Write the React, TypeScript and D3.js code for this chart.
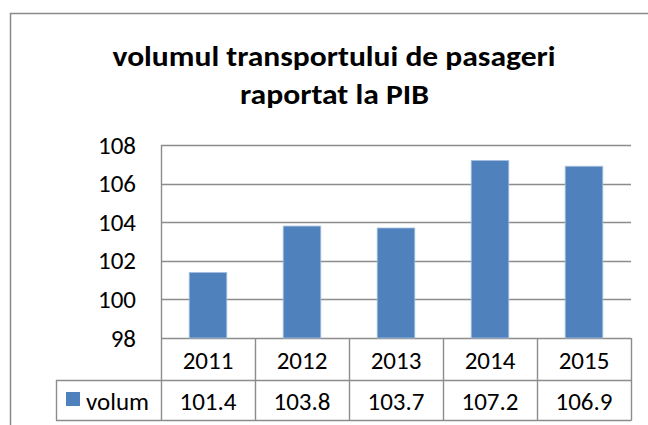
import { useEffect, useRef } from "react";
import * as d3 from "d3";

const years = ["2011", "2012", "2013", "2014", "2015"];
const volum = [101.4, 103.8, 103.7, 107.2, 106.9];
const yTicks = [98, 100, 102, 104, 106, 108];
const seriesName = "volum";
const titleLines = ["volumul transportului de pasageri", "raportat la PIB"];

const FONT = "Carlito, Calibri, Lato, 'Open Sans', sans-serif";
const GRID = "#8c8c8c";
const BAR = "#4f81bd";

export default function App() {
  const svgRef = useRef<SVGSVGElement | null>(null);

  useEffect(() => {
    if (!svgRef.current) return;
    const width = 648;
    const height = 425;
    const plot = { left: 161, right: 631, top: 145, bottom: 338 };
    const row1 = 380;
    const row2 = 420;
    const legendLeft = 56;

    const svg = d3.select(svgRef.current);
    svg.selectAll("*").remove();
    svg.attr("width", width).attr("height", height);

    svg.append("rect").attr("width", width).attr("height", height).attr("fill", "#fff");

    // outer chart frame (cropped on right and bottom)
    svg.append("path")
      .attr("d", `M10.5,${height} V13.5 H${width}`)
      .attr("fill", "none")
      .attr("stroke", "#8a8a8a")
      .attr("stroke-width", 1.5);

    // title
    const title = svg.append("g")
      .attr("font-family", FONT)
      .attr("font-weight", "bold")
      .attr("font-size", 29)
      .attr("fill", "#000")
      .attr("text-anchor", "middle");
    title.append("text").attr("x", 334).attr("y", 66)
      .attr("textLength", 443).attr("lengthAdjust", "spacingAndGlyphs")
      .text(titleLines[0]);
    title.append("text").attr("x", 334.5).attr("y", 104)
      .attr("textLength", 189).attr("lengthAdjust", "spacingAndGlyphs")
      .text(titleLines[1]);

    const y = d3.scaleLinear().domain([98, 108]).range([plot.bottom, plot.top]);
    const x = d3.scaleBand().domain(years).range([plot.left, plot.right]);

    // gridlines
    svg.append("g")
      .selectAll("line")
      .data(yTicks)
      .enter()
      .append("line")
      .attr("x1", plot.left)
      .attr("x2", plot.right)
      .attr("y1", d => Math.round(y(d)) + 0.5)
      .attr("y2", d => Math.round(y(d)) + 0.5)
      .attr("stroke", GRID)
      .attr("stroke-width", 1.4);

    // y tick labels
    svg.append("g")
      .attr("font-family", FONT)
      .attr("font-size", 25)
      .attr("text-anchor", "end")
      .selectAll("text")
      .data(yTicks)
      .enter()
      .append("text")
      .attr("x", 136)
      .attr("y", d => y(d))
      .attr("dominant-baseline", "central")
      .text(d => d);

    // bars
    const bw = x.bandwidth() * 0.4;
    svg.append("g")
      .selectAll("rect")
      .data(volum)
      .enter()
      .append("rect")
      .attr("x", (d, i) => (x(years[i]) as number) + (x.bandwidth() - bw) / 2)
      .attr("y", d => y(d))
      .attr("width", bw)
      .attr("height", d => y(98) - y(d))
      .attr("fill", BAR)
      .attr("stroke", "#a9c1df")
      .attr("stroke-width", 0.8);

    // data table lines
    const lines = svg.append("g").attr("stroke", GRID).attr("stroke-width", 1.4).attr("fill", "none");
    lines.append("line").attr("x1", plot.left + 0.5).attr("x2", plot.left + 0.5)
      .attr("y1", plot.top).attr("y2", row2 + 0.5);
    years.forEach(yr => {
      const xr = Math.round((x(yr) as number) + x.bandwidth()) + 0.5;
      lines.append("line").attr("x1", xr).attr("x2", xr).attr("y1", plot.bottom).attr("y2", row2 + 0.5);
    });
    lines.append("line").attr("x1", legendLeft).attr("x2", plot.right + 0.5).attr("y1", row1 + 0.5).attr("y2", row1 + 0.5);
    lines.append("line").attr("x1", legendLeft).attr("x2", plot.right + 0.5).attr("y1", row2 + 0.5).attr("y2", row2 + 0.5);
    lines.append("line").attr("x1", legendLeft + 0.5).attr("x2", legendLeft + 0.5).attr("y1", row1).attr("y2", row2 + 0.5);

    // table text
    const table = svg.append("g").attr("font-family", FONT).attr("font-size", 25).attr("fill", "#000");
    table.selectAll("text.cat")
      .data(years)
      .enter()
      .append("text")
      .attr("class", "cat")
      .attr("x", d => (x(d) as number) + x.bandwidth() / 2)
      .attr("y", (plot.bottom + row1) / 2 + 1)
      .attr("text-anchor", "middle")
      .attr("dominant-baseline", "central")
      .text(d => d);
    table.selectAll("text.val")
      .data(volum)
      .enter()
      .append("text")
      .attr("class", "val")
      .attr("x", (d, i) => (x(years[i]) as number) + x.bandwidth() / 2)
      .attr("y", (row1 + row2) / 2 + 1)
      .attr("text-anchor", "middle")
      .attr("dominant-baseline", "central")
      .text(d => d3.format(".1f")(d));

    // legend key
    svg.append("rect").attr("x", 66).attr("y", 392).attr("width", 14).attr("height", 14).attr("fill", BAR);
    table.append("text")
      .attr("x", 86)
      .attr("y", (row1 + row2) / 2 + 1)
      .attr("dominant-baseline", "central")
      .text(seriesName);
  }, []);

  return (
    <svg ref={svgRef} style={{ position: "absolute", left: 0, top: 0, display: "block" }}></svg>
  );
}
